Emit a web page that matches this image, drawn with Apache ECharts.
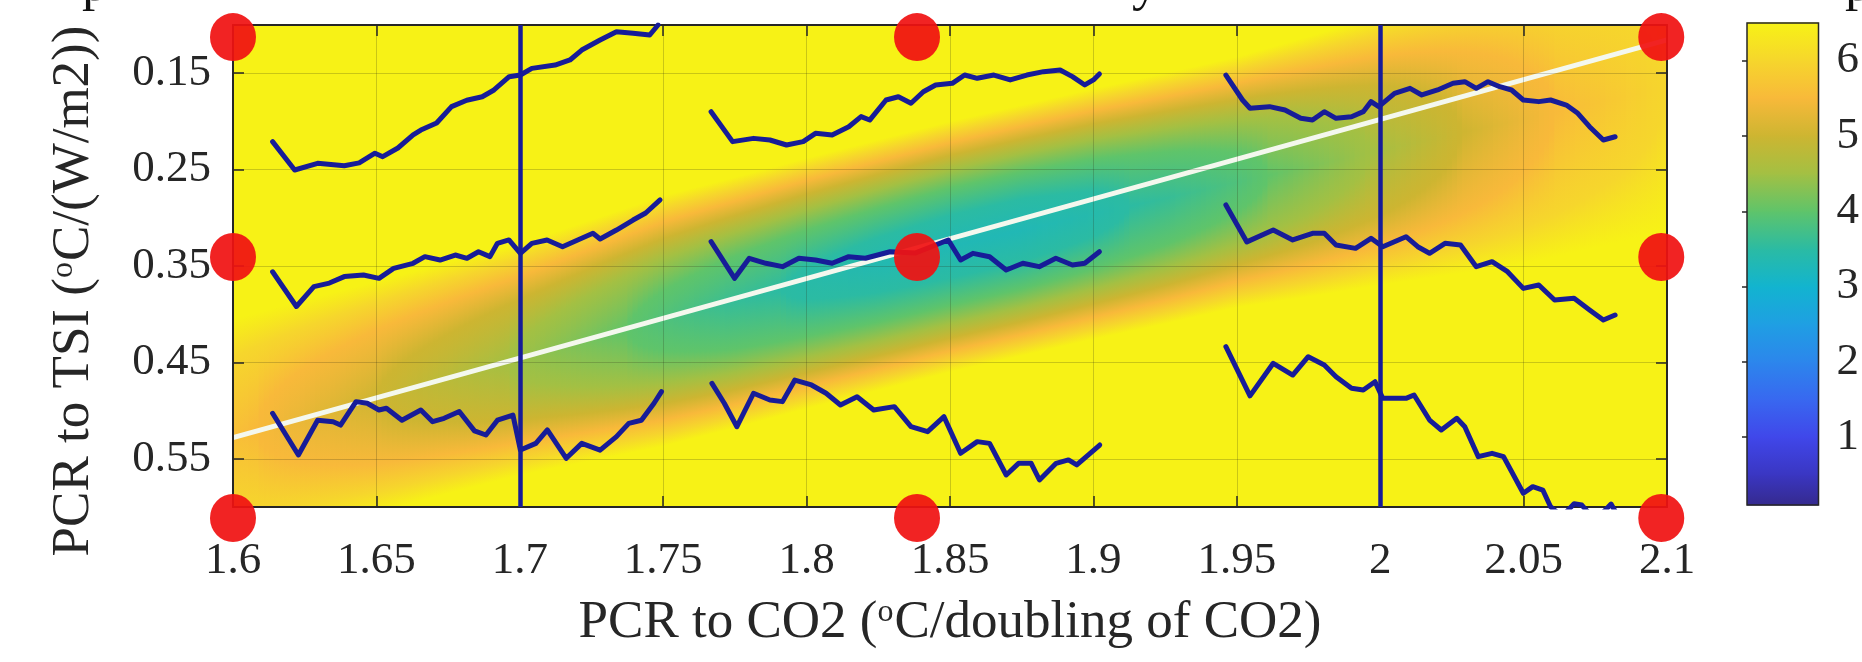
<!DOCTYPE html>
<html><head><meta charset="utf-8">
<script src="https://cdn.jsdelivr.net/npm/echarts@6/dist/echarts.min.js"></script>
<style>html,body{margin:0;padding:0;background:#fff}#c{width:1862px;height:662px}</style>
</head><body><div id="c"></div>
<script>
// ---------- axis ticks / titles ----------
const xTicks = [1.6, 1.65, 1.7, 1.75, 1.8, 1.85, 1.9, 1.95, 2.0, 2.05, 2.1];
const yTicks = [0.15, 0.25, 0.35, 0.45, 0.55];
const cbTicks = [1, 2, 3, 4, 5, 6];
const xTitle = 'PCR to CO2 ({s|o}C/doubling of CO2)';
const yTitle = 'PCR to TSI ({s|o}C/(W/m2))';
const topFragments = ['p', 'y', 'p'];

// ---------- colour scale ----------
const cmapV = [0.1, 0.5, 1, 1.5, 2, 2.5, 3, 3.5, 4, 4.5, 5, 5.5, 6, 6.5];
const cmapC = ['#352a8e','#3a36c2','#4047ea','#3868f0','#2c86ec','#1f9fe3','#12b4cf','#2bbba3','#5fc46a','#a3c043','#cdb531','#f8b93a','#f6d62c','#f7f216'];

// ---------- background field: valley read along x ----------
const bandX   = [1.6,1.625,1.65,1.675,1.7,1.725,1.75,1.775,1.8,1.825,1.85,1.875,1.9,1.925,1.95,1.975,2.0,2.025,2.05,2.075,2.1];
const bandMid = [0.525,0.505,0.486,0.466,0.447,0.427,0.407,0.388,0.368,0.349,0.33,0.313,0.296,0.28,0.263,0.247,0.23,0.214,0.198,0.181,0.165];
const bandMin = [5.6,5.3,5.0,4.75,4.45,4.15,3.85,3.6,3.45,3.35,3.3,3.3,3.4,3.6,3.85,4.2,4.55,4.95,5.35,5.7,6.0];
const bandHalf= [0.12,0.12,0.12,0.12,0.12,0.125,0.13,0.13,0.13,0.13,0.13,0.13,0.13,0.13,0.13,0.135,0.14,0.145,0.15,0.15,0.15];

// ---------- white fit line ----------
const fitX = [1.6, 2.1];
const fitY = [0.528, 0.1155];

// ---------- vertical reference lines ----------
const refX = [1.7, 2.0];

// ---------- red markers ----------
const markX = [1.6, 1.6, 1.6, 1.8385, 1.8385, 1.8385, 2.098, 2.098, 2.098];
const markY = [0.1125, 0.3407, 0.6114, 0.1125, 0.3407, 0.6114, 0.1125, 0.3407, 0.6114];

// ---------- blue curves ----------
const a1x = [1.6138,1.6215,1.6295,1.6388,1.644,1.6495,1.6522,1.6575,1.6628,1.6655,1.671,1.6762,1.6815,1.6869,1.691,1.6963,1.7002,1.7042,1.7123,1.7175,1.7216,1.728,1.7337,1.7395,1.7453,1.7482];
const a1y = [0.221,0.2504,0.2435,0.246,0.243,0.233,0.2366,0.2276,0.214,0.209,0.2017,0.1847,0.178,0.1744,0.1674,0.1536,0.1519,0.145,0.1415,0.1363,0.126,0.1156,0.107,0.1086,0.1104,0.1];
const a2x = [1.6138,1.6221,1.6282,1.6336,1.6388,1.6455,1.6509,1.656,1.6628,1.6669,1.6722,1.6775,1.6816,1.6856,1.6896,1.6922,1.6962,1.7002,1.7042,1.7095,1.7149,1.7202,1.7255,1.728,1.7337,1.7395,1.7439,1.7489];
const a2y = [0.356,0.392,0.3714,0.3677,0.361,0.3593,0.3628,0.3524,0.3472,0.3403,0.3438,0.3386,0.342,0.3352,0.3403,0.3265,0.323,0.3368,0.3265,0.323,0.33,0.323,0.316,0.322,0.3127,0.3023,0.295,0.2815];
const a3x = [1.6138,1.6228,1.6295,1.6349,1.6375,1.6429,1.6468,1.6509,1.6535,1.6589,1.6655,1.6696,1.6736,1.6789,1.6842,1.6882,1.6922,1.6976,1.7002,1.7056,1.7096,1.7162,1.7216,1.728,1.7337,1.738,1.7424,1.7468,1.7494];
const a3y = [0.5028,0.546,0.51,0.5115,0.515,0.4907,0.4924,0.4994,0.4976,0.51,0.4994,0.5115,0.508,0.501,0.521,0.5253,0.51,0.5046,0.5409,0.534,0.5201,0.5495,0.534,0.541,0.527,0.5132,0.51,0.4924,0.4803];
const b1x = [1.7667,1.7742,1.7815,1.7872,1.793,1.7988,1.8031,1.8089,1.8147,1.819,1.822,1.8277,1.832,1.8364,1.8407,1.845,1.8508,1.8551,1.8595,1.8653,1.871,1.8768,1.8826,1.8884,1.8927,1.897,1.9,1.9021];
const b1y = [0.19,0.221,0.2176,0.2193,0.2245,0.221,0.2124,0.2141,0.2055,0.195,0.1986,0.1778,0.1744,0.1812,0.1692,0.1622,0.1605,0.1519,0.1553,0.1519,0.157,0.1519,0.1484,0.1467,0.1536,0.1622,0.157,0.1508];
const b2x = [1.7667,1.7749,1.78,1.7858,1.7916,1.7973,1.8031,1.8089,1.8147,1.8205,1.8291,1.8378,1.8494,1.8537,1.858,1.8638,1.8696,1.8754,1.8811,1.8869,1.8927,1.897,1.9021];
const b2y = [0.3248,0.3628,0.342,0.3472,0.3507,0.342,0.3438,0.3472,0.3403,0.342,0.3352,0.3366,0.323,0.3438,0.3369,0.3404,0.3542,0.3472,0.3507,0.342,0.349,0.3472,0.3352];
const b3x = [1.767,1.7713,1.7757,1.7815,1.7872,1.7916,1.7959,1.8017,1.8068,1.8118,1.8176,1.8234,1.8306,1.8364,1.8422,1.8479,1.8537,1.8595,1.8638,1.8696,1.8739,1.8783,1.8812,1.887,1.8913,1.8942,1.9022];
const b3y = [0.4717,0.4924,0.5167,0.482,0.489,0.4907,0.4683,0.4734,0.482,0.4942,0.4856,0.4994,0.4959,0.5167,0.5219,0.5063,0.5443,0.5322,0.534,0.5668,0.5547,0.5547,0.572,0.5547,0.5512,0.5564,0.5357];
const c1x = [1.9462,1.952,1.9546,1.9614,1.9668,1.9723,1.9764,1.9805,1.9846,1.99,1.9941,1.9968,1.9995,2.005,2.0104,2.0145,2.02,2.0254,2.0295,2.0335,2.0376,2.0417,2.0458,2.0499,2.0553,2.0594,2.0649,2.0689,2.073,2.0778,2.0819];
const c1y = [0.1519,0.1778,0.1864,0.1847,0.1882,0.1968,0.1986,0.1899,0.1968,0.1951,0.1899,0.1795,0.1847,0.1709,0.1657,0.1726,0.1674,0.1605,0.1588,0.1657,0.1588,0.164,0.1674,0.1778,0.1795,0.1778,0.183,0.1916,0.2055,0.2193,0.2159];
const c2x = [1.9462,1.9535,1.9627,1.9695,1.9764,1.9805,1.9846,1.9914,1.9968,2.0009,2.009,2.0131,2.0172,2.0226,2.028,2.0335,2.039,2.0444,2.0499,2.0553,2.0608,2.0676,2.073,2.0778,2.0819];
const c2y = [0.2867,0.325,0.3127,0.323,0.3161,0.3161,0.3282,0.3317,0.3213,0.33,0.3196,0.33,0.3368,0.3265,0.3282,0.3507,0.3455,0.3559,0.3732,0.3697,0.3853,0.3835,0.3956,0.406,0.4008];
const c3x = [1.9462,1.9546,1.9627,1.9695,1.9749,1.9805,1.9846,1.99,1.9941,1.9982,2.0009,2.009,2.0118,2.0172,2.0213,2.0267,2.0295,2.0342,2.039,2.043,2.0499,2.0532,2.0567,2.0594,2.0634,2.0676,2.0703,2.075,2.0805,2.083];
const c3y = [0.4337,0.4847,0.4509,0.4631,0.4441,0.4527,0.4648,0.4769,0.4786,0.47,0.4873,0.4873,0.4838,0.5098,0.5201,0.508,0.5167,0.5478,0.5443,0.5478,0.5858,0.5789,0.5824,0.5997,0.61,0.5966,0.598,0.614,0.597,0.61];
const curves = [[a1x,a1y],[a2x,a2y],[a3x,a3y],[b1x,b1y],[b2x,b2y],[b3x,b3y],[c1x,c1y],[c2x,c2y],[c3x,c3y]];

// ---------- rendering helpers ----------
const FONT = '"Liberation Serif","Times New Roman",serif';
const INK = '#262626';
const BLUE = '#171c98';
const X_MIN = 1.6, X_MAX = 2.1, Y_MIN = 0.1, Y_MAX = 0.6;
const bandStep = bandX[1] - bandX[0];
const SLICES = 14;
const cLow = cmapV[0], cTop = cmapV[cmapV.length - 1];

function hexRgb(h){return [parseInt(h.slice(1,3),16),parseInt(h.slice(3,5),16),parseInt(h.slice(5,7),16)];}
function cmap(v){
  if (v <= cmapV[0]) return cmapC[0];
  for (let k = 1; k < cmapV.length; k++) {
    if (v <= cmapV[k]) {
      const t = (v - cmapV[k-1]) / (cmapV[k] - cmapV[k-1]);
      const a = hexRgb(cmapC[k-1]), b = hexRgb(cmapC[k]);
      return 'rgb(' + a.map((c,j)=>Math.round(c + (b[j]-c)*t)).join(',') + ')';
    }
  }
  return cmapC[cmapC.length-1];
}
function bandStops(mn){
  const s = [{offset:0.5, color:cmap(mn)}];
  cmapV.forEach((v,k)=>{
    if (v > mn) {
      const u = Math.sqrt((v - mn) / (cTop - mn));
      s.push({offset:0.5-0.5*u, color:cmapC[k]}, {offset:0.5+0.5*u, color:cmapC[k]});
    }
  });
  s.sort((a,b)=>a.offset-b.offset);
  return s;
}
// one column of the field; shading is blended towards the neighbouring columns
function renderBand(params, api){
  const i = params.dataIndex;
  const n = bandX.length;
  const children = [];
  const ip = Math.max(0, i-1), inx = Math.min(n-1, i+1);
  const a = api.coord([bandX[ip], bandMid[ip]]), b = api.coord([bandX[inx], bandMid[inx]]);
  let dx = b[0]-a[0], dy = b[1]-a[1];
  const L = Math.hypot(dx, dy); dx /= L; dy /= L;
  const nx = -dy, ny = dx;
  for (let s = 0; s < SLICES; s++) {
    const t = (s + 0.5) / SLICES - 0.5;
    const j = t < 0 ? i - 1 : i + 1;
    const w = (j >= 0 && j < n) ? Math.abs(t) : 0;
    const jj = Math.min(n-1, Math.max(0, j));
    const xs = bandX[i] + t * bandStep;
    const mid = bandMid[i]*(1-w) + bandMid[jj]*w;
    const mn = bandMin[i]*(1-w) + bandMin[jj]*w;
    const hw = bandHalf[i]*(1-w) + bandHalf[jj]*w;
    const p0 = api.coord([xs - bandStep/(2*SLICES), Y_MIN]);
    const p1 = api.coord([xs + bandStep/(2*SLICES), Y_MAX]);
    const c = api.coord([xs, mid]);
    const hv = Math.abs(api.coord([xs, mid + hw])[1] - c[1]);
    const hp = hv * Math.abs(dx);
    const grad = new echarts.graphic.LinearGradient(c[0]-nx*hp, c[1]-ny*hp, c[0]+nx*hp, c[1]+ny*hp, bandStops(mn), true);
    children.push({type:'rect', shape:{x:Math.min(p0[0],p1[0]), y:Math.min(p0[1],p1[1]), width:Math.abs(p1[0]-p0[0])+1, height:Math.abs(p1[1]-p0[1])}, style:{fill:grad}});
  }
  return {type:'group', children:children};
}
function renderBar(params, api){
  const v0 = api.value(0), v1 = api.value(1), k = api.value(2);
  const p0 = api.coord([0, v1]), p1 = api.coord([1, v0]);
  const grad = new echarts.graphic.LinearGradient(0, 0, 0, 1, [{offset:0, color:cmapC[k+1]}, {offset:1, color:cmapC[k]}]);
  return {type:'rect', shape:{x:p0[0], y:p0[1]-0.5, width:p1[0]-p0[0], height:p1[1]-p0[1]+1}, style:{fill:grad}};
}

const lineAxis = {show:true, onZero:false, lineStyle:{color:INK, width:2}};
const tickStyle = {color:INK, width:1.5};
const labelStyle = {fontSize:45, fontFamily:FONT, color:INK};
const gridLine = {show:true, lineStyle:{color:'rgba(40,40,20,0.22)', width:1}};
const supRich = {s:{fontSize:32, fontFamily:FONT, color:INK, verticalAlign:'top', padding:[0,1,18,0]}};

const series = [];
series.push({
  type:'custom', name:'field', renderItem:renderBand, clip:true, silent:true, z:1,
  xAxisIndex:0, yAxisIndex:0,
  dimensions:['x','y','min','half'], encode:{x:0, y:1},
  data: bandX.map((x,i)=>[x, bandMid[i], bandMin[i], bandHalf[i]])
});
series.push({
  type:'line', name:'fit', xAxisIndex:0, yAxisIndex:0, z:2, symbol:'none', silent:true,
  lineStyle:{color:'#f4f8ee', width:5},
  data: fitX.map((x,i)=>[x, fitY[i]]),
  markLine:{symbol:'none', silent:true, label:{show:false}, z:4,
    lineStyle:{color:BLUE, width:4.5, type:'solid'},
    data: refX.map(v=>({xAxis:v}))}
});
curves.forEach((c, n)=>{
  series.push({
    type:'line', name:'curve'+n, xAxisIndex:0, yAxisIndex:0, z:4, symbol:'none', silent:true,
    lineStyle:{color:BLUE, width:5, join:'round', cap:'round'},
    data: c[0].map((x,i)=>[x, c[1][i]])
  });
});
series.push({
  type:'scatter', name:'markers', xAxisIndex:0, yAxisIndex:0, z:6, clip:false, silent:true,
  symbol:'circle', symbolSize:[46,48], itemStyle:{color:'#f01212', opacity:0.93},
  data: markX.map((x,i)=>[x, markY[i]])
});
series.push({
  type:'custom', name:'colorbar', renderItem:renderBar, clip:false, silent:true, z:2,
  xAxisIndex:2, yAxisIndex:2,
  dimensions:['from','to','k'], encode:{y:[0,1]},
  data: cmapV.slice(1).map((v,k)=>[cmapV[k], v, k])
});

const option = {
  animation:false,
  backgroundColor:'#ffffff',
  grid:[
    {left:233, top:25, width:1434, height:482, containLabel:false},
    {left:1747, top:23, width:80, height:482, show:true, borderColor:INK, borderWidth:1.5, backgroundColor:'transparent', z:5}
  ],
  xAxis:[
    {gridIndex:0, type:'value', min:X_MIN, max:X_MAX, interval:0.05, position:'bottom', z:3,
     axisLine:lineAxis, axisTick:{inside:true, length:11, lineStyle:tickStyle},
     axisLabel:Object.assign({margin:32, formatter:v=>String(+v.toFixed(2))}, labelStyle),
     splitLine:gridLine,
     name:xTitle, nameLocation:'middle', nameGap:90,
     nameTextStyle:{fontSize:53, fontFamily:FONT, color:INK, rich:supRich}},
    {gridIndex:0, type:'value', min:X_MIN, max:X_MAX, interval:0.05, position:'top', z:3,
     axisLine:lineAxis, axisTick:{inside:true, length:11, lineStyle:tickStyle},
     axisLabel:{show:false}, splitLine:{show:false}},
    {gridIndex:1, type:'value', min:0, max:1, show:false}
  ],
  yAxis:[
    {gridIndex:0, type:'value', min:Y_MIN, max:Y_MAX, inverse:true, position:'left', z:3,
     axisLine:lineAxis, axisTick:{inside:true, length:11, lineStyle:tickStyle, customValues:yTicks},
     axisLabel:Object.assign({margin:22, customValues:yTicks, formatter:v=>(+v).toFixed(2)}, labelStyle),
     splitLine:gridLine,
     name:yTitle, nameLocation:'middle', nameGap:132,
     nameTextStyle:{fontSize:53, fontFamily:FONT, color:INK, rich:supRich, padding:[0,50,0,0]}},
    {gridIndex:0, type:'value', min:Y_MIN, max:Y_MAX, inverse:true, position:'right', z:3,
     axisLine:lineAxis, axisTick:{inside:true, length:11, lineStyle:tickStyle, customValues:yTicks},
     axisLabel:{show:false}, splitLine:{show:false}},
    {gridIndex:1, type:'value', min:cLow, max:cTop, position:'right', z:6,
     axisLine:{show:false}, axisTick:{inside:true, length:5, lineStyle:tickStyle, customValues:cbTicks},
     axisLabel:Object.assign({margin:18, customValues:cbTicks, formatter:v=>String(v)}, labelStyle),
     splitLine:{show:false}}
  ],
  graphic:[
    {type:'text', x:82, y:-40, z:10, silent:true, style:{text:topFragments[0], fontSize:53, fontFamily:FONT, fill:'#111', verticalAlign:'top'}},
    {type:'text', x:1132, y:-40, z:10, silent:true, style:{text:topFragments[1], fontSize:53, fontFamily:FONT, fill:'#111', verticalAlign:'top'}},
    {type:'text', x:1845, y:-40, z:10, silent:true, style:{text:topFragments[2], fontSize:53, fontFamily:FONT, fill:'#111', verticalAlign:'top'}}
  ],
  series:series
};
const chart = echarts.init(document.getElementById('c'), null, {renderer:'canvas'});
chart.setOption(option);
</script>
</body></html>
